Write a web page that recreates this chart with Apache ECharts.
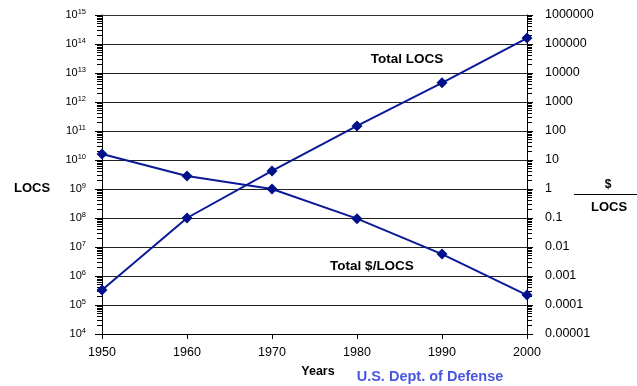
<!DOCTYPE html>
<html><head><meta charset="utf-8">
<script src="https://cdn.jsdelivr.net/npm/echarts@6/dist/echarts.min.js"></script>
<style>html,body{margin:0;padding:0;background:#fff}#c{width:637px;height:386px}</style>
</head><body><div id="c"></div>
<script>
const years = [1950, 1960, 1970, 1980, 1990, 2000];
const totalLocs = [3.3e5, 1e8, 4.2e9, 1.5e11, 4.6e12, 1.6e14];
const dollarsPerLoc = [16, 2.8, 1, 0.095, 0.0057, 0.00022];
const leftTicks = [1e4,1e5,1e6,1e7,1e8,1e9,1e10,1e11,1e12,1e13,1e14,1e15];
const rightTicks = [1e-5,1e-4,1e-3,1e-2,1e-1,1,10,100,1000,1e4,1e5,1e6];

function minorVals(lo, hi){
  const out=[];
  for(let e=lo;e<hi;e++){for(let m=2;m<=9;m++){out.push(m*Math.pow(10,e));}}
  return out;
}
// keep end values just inside the axis extent (floating-point log rounding)
function inside(arr){
  const n=arr.length;
  return arr.map((v,i)=> i===n-1 ? v*(1-1e-9) : (i===0 ? v*(1+1e-9) : v));
}
const FONT = '"Liberation Sans", Arial, sans-serif';
const chart = echarts.init(document.getElementById('c'), null, {renderer:'canvas'});
const baseY = {type:'log', logBase:10, gridIndex:0};
chart.setOption({
  animation:false,
  backgroundColor:'#fff',
  textStyle:{fontFamily:FONT},
  grid:{left:102, right:110, top:15, bottom:52, containLabel:false},
  xAxis:[{
    type:'value', min:1950, max:2000, interval:10,
    axisLine:{lineStyle:{color:'#000', width:1}},
    axisTick:{show:true, length:5, inside:false, lineStyle:{color:'#000'}},
    axisLabel:{color:'#000', fontSize:12.5, fontFamily:FONT, margin:12, formatter:v=>String(v)},
    splitLine:{show:false}
  },{
    type:'value', min:1950, max:2000, position:'top',
    axisLine:{show:true, lineStyle:{color:'#333', width:1}},
    axisTick:{show:false}, axisLabel:{show:false}, splitLine:{show:false}
  }],
  yAxis:[
    Object.assign({}, baseY, {
      position:'left', min:1e4, max:1e15, interval:1, splitNumber:11,
      axisLine:{show:true, lineStyle:{color:'#000'}},
      axisTick:{show:true, length:7, customValues:inside(leftTicks), lineStyle:{color:'#000'}},
      axisLabel:{show:true, margin:16, customValues:inside(leftTicks),
        formatter:v=>'{b|10}{s|'+Math.round(Math.log10(v))+'}',
        rich:{b:{fontSize:11, color:'#000', fontFamily:FONT}, s:{fontSize:7.5, color:'#000', fontFamily:FONT, verticalAlign:'top', padding:[0,0,6,0]}}},
      splitLine:{show:true, lineStyle:{color:'#222', width:1}}
    }),
    Object.assign({}, baseY, {
      position:'right', min:1e-5, max:1e6, interval:1, splitNumber:11,
      axisLine:{show:true, lineStyle:{color:'#000'}},
      axisTick:{show:true, length:6, customValues:inside(rightTicks), lineStyle:{color:'#000'}},
      axisLabel:{show:true, margin:18, color:'#000', fontSize:12.5, fontFamily:FONT, customValues:inside(rightTicks),
        formatter:v=>{const e=Math.round(Math.log10(v)); return e>=0?String(Math.round(Math.pow(10,e))):Math.pow(10,e).toFixed(-e);}},
      splitLine:{show:false}
    }),
    Object.assign({}, baseY, {
      position:'left', min:1e4, max:1e15,
      axisLine:{show:false},
      axisTick:{show:true, length:5, customValues:minorVals(4,15), lineStyle:{color:'#000'}},
      axisLabel:{show:false}, splitLine:{show:false}
    }),
    Object.assign({}, baseY, {
      position:'right', min:1e-5, max:1e6,
      axisLine:{show:false},
      axisTick:{show:true, length:5, customValues:minorVals(-5,6), lineStyle:{color:'#000'}},
      axisLabel:{show:false}, splitLine:{show:false}
    })
  ],
  graphic:[
    {type:'text', x:407, y:59, style:{text:'Total LOCS', font:'bold 13.5px '+FONT, fill:'#000', align:'center', verticalAlign:'middle'}},
    {type:'text', x:372, y:266, style:{text:'Total $/LOCS', font:'bold 13.5px '+FONT, fill:'#000', align:'center', verticalAlign:'middle'}},
    {type:'text', x:32, y:188, style:{text:'LOCS', font:'bold 13px '+FONT, fill:'#000', align:'center', verticalAlign:'middle'}},
    {type:'text', x:608, y:185, style:{text:'$', font:'bold 12px '+FONT, fill:'#000', align:'center', verticalAlign:'middle'}},
    {type:'line', shape:{x1:574, y1:194.5, x2:637, y2:194.5}, style:{stroke:'#000', lineWidth:1}},
    {type:'text', x:609, y:207, style:{text:'LOCS', font:'bold 13px '+FONT, fill:'#000', align:'center', verticalAlign:'middle'}},
    {type:'text', x:318, y:372, style:{text:'Years', font:'bold 12.5px '+FONT, fill:'#000', align:'center', verticalAlign:'middle'}},
    {type:'text', x:430, y:377, style:{text:'U.S. Dept. of Defense', font:'bold 14.5px '+FONT, fill:'#4a56dc', align:'center', verticalAlign:'middle'}}
  ],
  series:[
    {type:'line', yAxisIndex:0, data:years.map((y,i)=>[y,totalLocs[i]]),
     symbol:'diamond', symbolSize:11, lineStyle:{color:'#0a1a96', width:2},
     itemStyle:{color:'#001088'}},
    {type:'line', yAxisIndex:1, data:years.map((y,i)=>[y,dollarsPerLoc[i]]),
     symbol:'diamond', symbolSize:11, lineStyle:{color:'#0a1a96', width:2},
     itemStyle:{color:'#001088'}}
  ]
});
</script></body></html>
